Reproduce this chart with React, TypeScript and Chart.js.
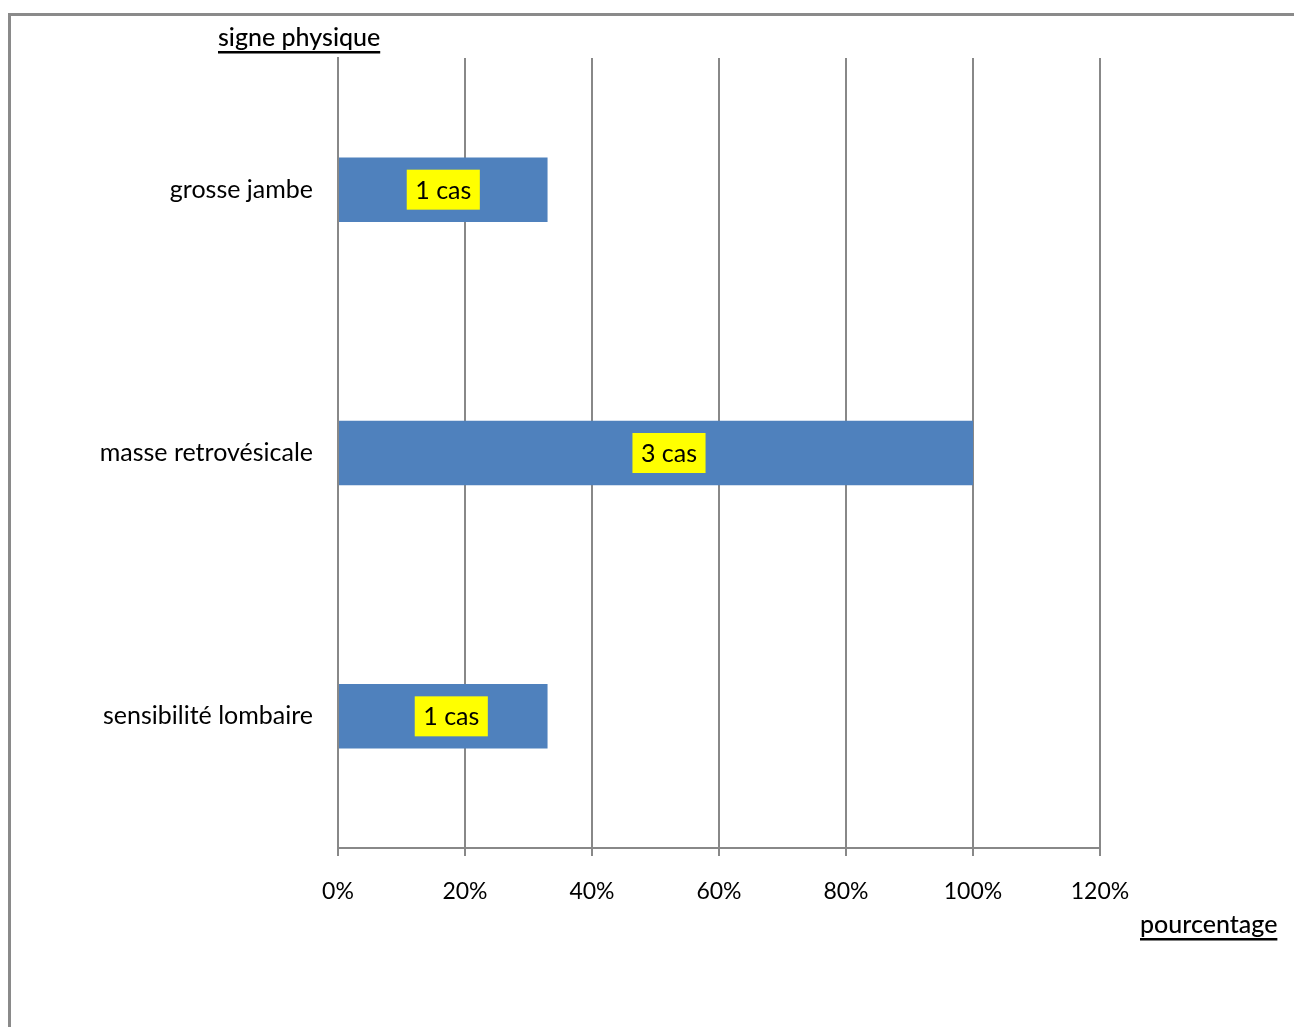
import React, { useEffect, useRef } from "react";
import { Chart, registerables } from "chart.js";

Chart.register(...registerables);

const categories = ["grosse jambe", "masse retrovésicale", "sensibilité lombaire"];
const percentages = [33, 100, 33];
const caseLabels = ["1 cas", "3 cas", "1 cas"];
const xTicks = [0, 20, 40, 60, 80, 100, 120];
const yTitle = "signe physique";
const xTitle = "pourcentage";

const FONT = "Lato, 'Open Sans', sans-serif";
const GRID = "#888888";

export default function App() {
  const ref = useRef<HTMLCanvasElement | null>(null);
  useEffect(() => {
    if (!ref.current) return;
    const labelShift = [0, 13, 8];
    const framePlugin = {
      id: "frame",
      beforeDraw(chart: any) {
        const ctx = chart.ctx;
        ctx.save();
        ctx.fillStyle = "#ffffff";
        ctx.fillRect(0, 0, chart.width, chart.height);
        ctx.strokeStyle = "#8a8a8a";
        ctx.lineWidth = 3;
        ctx.strokeRect(9.5, 14.5, 1400, 1100);
        ctx.restore();
      },
      afterDraw(chart: any) {
        const ctx = chart.ctx;
        ctx.save();
        const meta = chart.getDatasetMeta(0);
        ctx.font = `25px ${FONT}`;
        ctx.textAlign = "center";
        ctx.textBaseline = "middle";
        meta.data.forEach((bar: any, i: number) => {
          const cx = (bar.x + bar.base) / 2 + labelShift[i];
          const cy = bar.y;
          const w = ctx.measureText(caseLabels[i]).width + 17;
          ctx.fillStyle = "#ffff00";
          ctx.fillRect(cx - w / 2, cy - 20, w, 40);
          ctx.fillStyle = "#000000";
          ctx.fillText(caseLabels[i], cx, cy + 1);
        });
        const drawTitle = (t: string, x: number, y: number) => {
          ctx.font = `500 25px ${FONT}`;
          ctx.textAlign = "left";
          ctx.textBaseline = "middle";
          ctx.fillStyle = "#000000";
          ctx.fillText(t, x, y);
          const w = ctx.measureText(t).width;
          ctx.fillRect(x, y + 13, w, 2.5);
        };
        drawTitle(yTitle, 218, 38);
        drawTitle(xTitle, 1140, 925);
        ctx.restore();
      },
    };
    const chart = new Chart(ref.current, {
      type: "bar",
      data: {
        labels: categories,
        datasets: [
          {
            data: percentages,
            backgroundColor: "#4f81bd",
            borderWidth: 0,
            categoryPercentage: 1,
            barPercentage: 0.245,
          },
        ],
      },
      options: {
        indexAxis: "y",
        responsive: false,
        animation: false,
        devicePixelRatio: 1,
        layout: { padding: { top: 58, right: 194, left: 0, bottom: 0 } },
        plugins: { legend: { display: false }, tooltip: { enabled: false } },
        scales: {
          x: {
            type: "linear",
            min: 0,
            max: 120,
            afterBuildTicks(scale: any) {
              scale.ticks = xTicks.map((v) => ({ value: v }));
            },
            afterFit(scale: any) {
              scale.height = 1027 - 848;
            },
            grid: { color: GRID, lineWidth: 2, drawTicks: true, tickLength: 8, tickColor: GRID },
            border: { display: true, color: GRID, width: 2 },
            ticks: {
              padding: 22,
              color: "#000000",
              font: { family: FONT, size: 23 },
              callback: (v: any) => `${v}%`,
              maxRotation: 0,
              autoSkip: false,
            },
          },
          y: {
            afterFit(scale: any) {
              scale.width = 338;
            },
            grid: { display: false, drawTicks: false },
            border: { display: true, color: GRID, width: 2 },
            ticks: {
              padding: 25,
              color: "#000000",
              font: { family: FONT, size: 25 },
            },
          },
        },
      },
      plugins: [framePlugin],
    });
    return () => chart.destroy();
  }, []);
  return (
    <div style={{ position: "absolute", left: 0, top: 0, width: 1294, height: 1027, overflow: "hidden" }}>
      <canvas ref={ref} width={1294} height={1027} style={{ display: "block" }} />
    </div>
  );
}
